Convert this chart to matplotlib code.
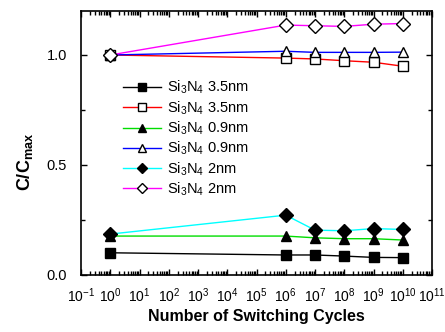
import matplotlib
matplotlib.use("Agg")
import matplotlib.pyplot as plt
from matplotlib.ticker import LogLocator, FixedLocator, NullFormatter, FixedFormatter
import numpy as np

plt.rcParams['font.family'] = ['Liberation Sans', 'DejaVu Sans']
plt.rcParams['mathtext.fontset'] = 'custom'
plt.rcParams['mathtext.rm'] = 'Liberation Sans'
plt.rcParams['mathtext.it'] = 'Liberation Sans:italic'
plt.rcParams['mathtext.bf'] = 'Liberation Sans:bold'

cycles = [1, 1e6, 1e7, 1e8, 1e9, 1e10]
sin35_off = [0.101, 0.091, 0.091, 0.086, 0.080, 0.079]
sin35_on = [1.0, 0.986, 0.982, 0.974, 0.967, 0.949]
sin09_off = [0.177, 0.177, 0.169, 0.165, 0.165, 0.159]
sin09_on = [1.0, 1.017, 1.012, 1.012, 1.012, 1.013]
sin2_off = [0.186, 0.272, 0.204, 0.201, 0.211, 0.207]
sin2_on = [1.0, 1.136, 1.133, 1.130, 1.140, 1.143]

labels = [r'Si$_3$N$_4$ 3.5nm', r'Si$_3$N$_4$ 3.5nm', r'Si$_3$N$_4$ 0.9nm',
          r'Si$_3$N$_4$ 0.9nm', r'Si$_3$N$_4$ 2nm', r'Si$_3$N$_4$ 2nm']

fig = plt.figure(figsize=(4.45, 3.32), dpi=100)
ax = fig.add_axes([81/445, 1-275/332, (432-81)/445, (275-11)/332])

series = [
    (sin35_off, 'black', 's', 'black'),
    (sin35_on, 'red', 's', 'white'),
    (sin09_off, '#00dd00', '^', 'black'),
    (sin09_on, 'blue', '^', 'white'),
    (sin2_off, 'cyan', 'D', 'black'),
    (sin2_on, 'magenta', 'D', 'white'),
]
for (vals, col, mk, fc), lab in zip(series, labels):
    ms = 7.5 if mk != 'D' else 7
    ax.plot(cycles, vals, color=col, lw=1, marker=mk, ms=ms,
            markerfacecolor=fc, markeredgecolor='black', markeredgewidth=1,
            label=lab)

ax.set_xscale('log')
ax.set_xlim(1e-1, 1e11)
ax.set_ylim(0, 1.2)

ax.xaxis.set_major_locator(FixedLocator([10.0**k for k in range(-1, 12)]))
ax.xaxis.set_major_formatter(FixedFormatter([r'10$^{%d}$' % k for k in range(-1, 12)]))
ax.xaxis.set_minor_locator(LogLocator(base=10, subs=np.arange(2, 10), numticks=30))
ax.xaxis.set_minor_formatter(NullFormatter())

ax.set_yticks([0.0, 0.5, 1.0])
ax.set_yticklabels(['0.0', '0.5', '1.0'])
ax.set_yticks([0.25, 0.75], minor=True)

ax.tick_params(axis='both', which='major', direction='in', length=4, width=1,
               labelsize=10.5, top=True, right=True)
ax.tick_params(axis='both', which='minor', direction='in', length=3, width=1,
               top=True, right=True)
ax.tick_params(axis='x', which='major', pad=8, labelsize=10)
ax.tick_params(axis='y', which='major', pad=10)
for s in ax.spines.values():
    s.set_linewidth(1.2)

ax.set_xlabel('Number of Switching Cycles', fontsize=11.5, fontweight='bold', labelpad=3)
ax.set_ylabel(r'C/C$_{\mathbf{max}}$', fontsize=13, fontweight='bold')
ax.yaxis.set_label_coords(-0.13, 0.43)

leg = ax.legend(loc='upper left', bbox_to_anchor=(0.10, 0.77), frameon=False,
                fontsize=10.5, handlelength=2.6, labelspacing=0.2,
                handletextpad=0.4, borderpad=0, markerscale=0.75)

fig.savefig('out.png', dpi=100)
